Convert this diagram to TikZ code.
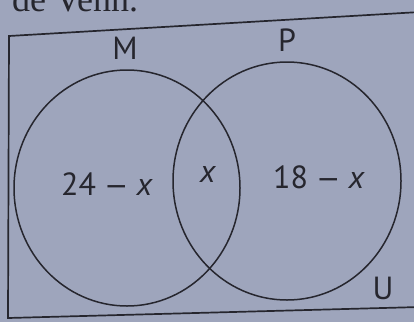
\documentclass[tikz,border=0pt]{standalone}
\usepackage{fontspec}
\setmainfont{PT Sans}
\newfontfamily\titlefont{Liberation Serif}
\newfontfamily\symfont{DejaVu Sans}
\usepackage{tikz}
\usetikzlibrary{positioning}
\definecolor{paper}{RGB}{158,165,188}
\definecolor{ink}{RGB}{38,38,46}

\newcommand{\minussign}{{\symfont\fontsize{28}{32}\selectfont −}}

\tikzset{
    label/.style={ink, inner sep=1pt, font=\fontsize{32}{36}\selectfont},
    set/.style={ink, line width=1.5pt}
}

\begin{document}
\begin{tikzpicture}[x=1pt,y=-1pt]
    % 背景
    \fill[paper] (0,0) rectangle (414,322);
    \useasboundingbox (0,0) rectangle (414,322);
    \clip (0,0) rectangle (414,322);

    % 上面的文字（被裁掉）
    \node[anchor=base west, inner sep=0, ink, font=\titlefont\fontsize{36}{40}\selectfont] (title) at (12,11) {de Venn.};

    % 全集 U 的方框
    \draw[ink, line width=1.7pt] (420,12) -- (9,36) -- (8,318) -- (420,307);

    % 两个集合
    \draw[set] (127,188) ellipse (113 and 118);
    \draw[set] (287,181) ellipse (114 and 119);

    % 标注
    \node[label] (M) at (125,48) {M};
    \node[label] (P) at (287,40) {P};
    \node[label] (U) at (383,288) {U};
    \node[label] (onlyM) at (107,184) {24 \minussign{} \textit{x}};
    \node[label] (both) at (208,174) {\textit{x}};
    \node[label] (onlyP) at (319,177) {18 \minussign{} \textit{x}};
\end{tikzpicture}
\end{document}
